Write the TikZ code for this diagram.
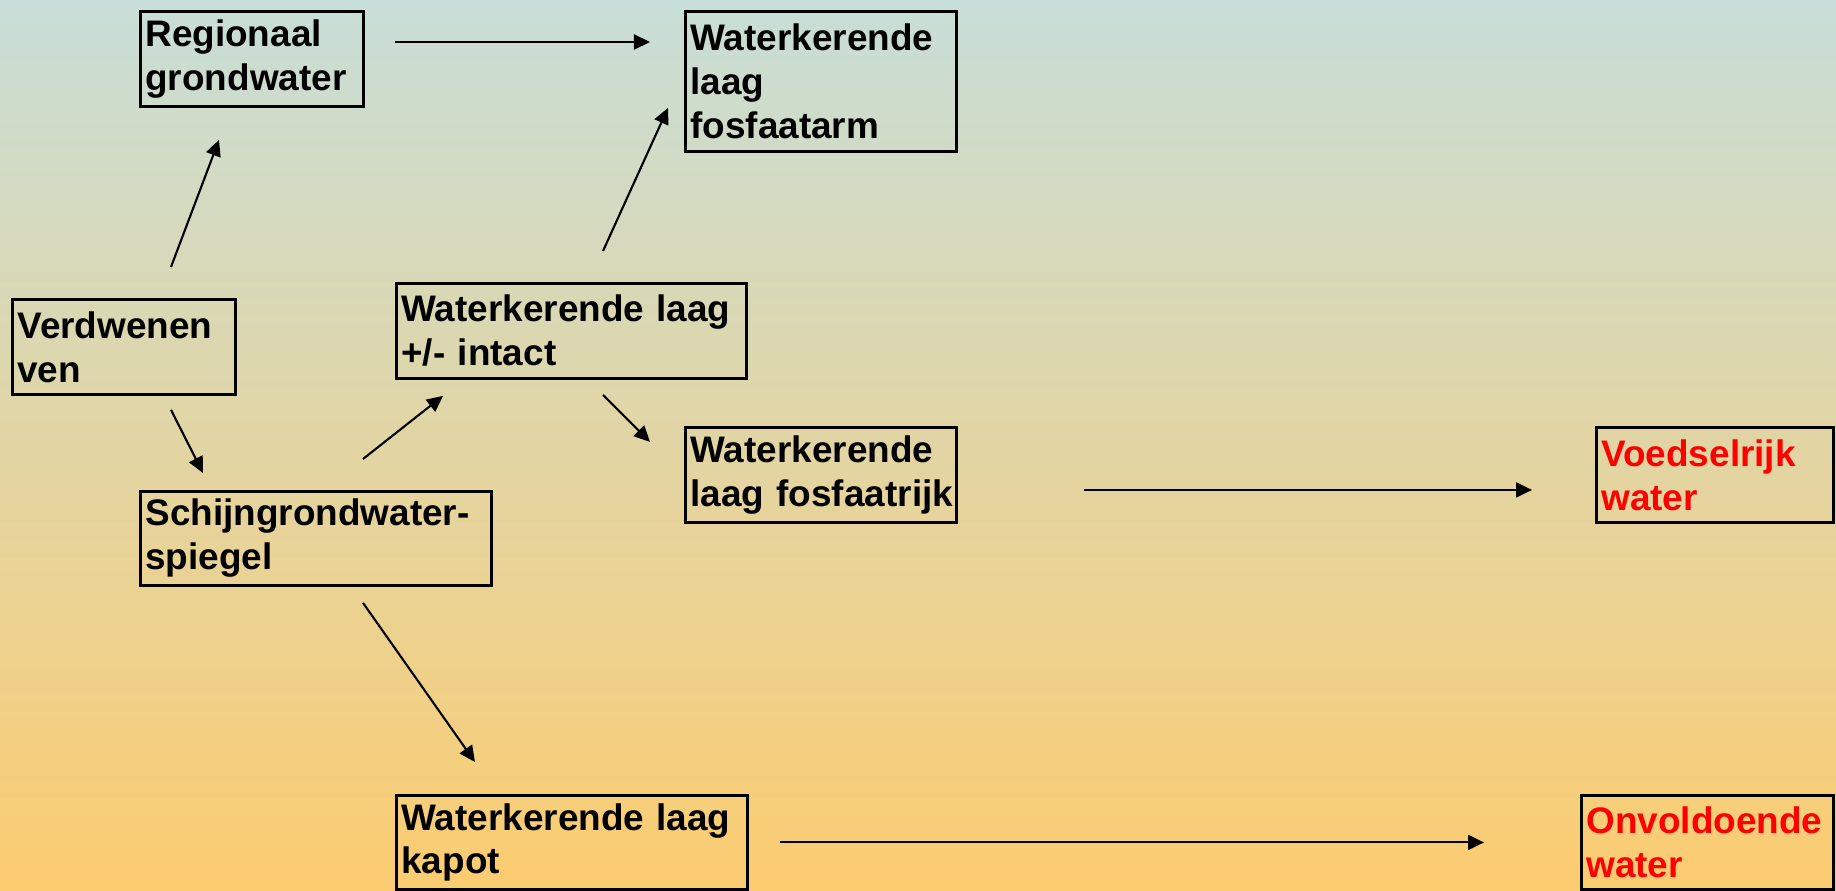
\documentclass[tikz,border=0pt]{standalone}
\usepackage{fontspec}
\setmainfont{Liberation Sans}
\usetikzlibrary{arrows.meta}
\definecolor{bgtop}{RGB}{200,222,216}
\definecolor{bgbottom}{RGB}{252,204,112}
\definecolor{alarmred}{RGB}{255,0,0}

\tikzset{
  blok/.style={draw, line width=0.8pt, anchor=north west, align=left,
               inner xsep=0.05cm, inner ysep=0pt,
               font=\fontsize{10.5}{12.5}\selectfont\bfseries},
  gevolg/.style={blok, text=alarmred},
  pijl/.style={-{Triangle[length=0.16cm,width=0.15cm]}, line width=0.6pt}
}

\begin{document}
\begin{tikzpicture}[x=0.01cm, y=-0.01cm]
  \useasboundingbox (0,0) rectangle (1836,891);
  \shade[top color=bgtop, bottom color=bgbottom] (0,0) rectangle (1836,891);

  % oorzaak en tussenstappen
  \node[blok, text width=2.13cm, minimum height=0.95cm] (reg) at (139,10)
    {Regionaal\\grondwater};
  \node[blok, text width=2.61cm, minimum height=1.40cm] (arm) at (684,10)
    {Waterkerende\\laag\\fosfaatarm};
  \node[blok, text width=2.13cm, minimum height=0.95cm] (ven) at (11,298)
    {Verdwenen\\ven};
  \node[blok, text width=3.40cm, minimum height=0.95cm] (intact) at (395,282)
    {Waterkerende laag\\+/- intact};
  \node[blok, text width=3.41cm, minimum height=0.94cm] (schijn) at (139,490)
    {Schijngrondwater-\\spiegel};
  \node[blok, text width=2.61cm, minimum height=0.95cm] (rijk) at (684,426)
    {Waterkerende\\\mbox{laag fosfaatrijk}};
  \node[blok, text width=3.41cm, minimum height=0.94cm] (kapot) at (395,794)
    {Waterkerende laag\\kapot};

  % gevolgen
  \node[gevolg, text width=2.27cm, minimum height=0.95cm] (voed) at (1595,426)
    {Voedselrijk\\water};
  \node[gevolg, text width=2.42cm, minimum height=0.94cm] (onv) at (1580,794)
    {Onvoldoende\\water};

  \draw[pijl] ([shift={(30,32)}]reg.north east) -- ([shift={(-34,32)}]arm.north west);
  \draw[pijl] ([shift={(160,-31)}]ven.north west) -- ([shift={(80,32)}]reg.south west);
  \draw[pijl] ([shift={(208,-31)}]intact.north west) -- ([shift={(-16,-45)}]arm.south west);
  \draw[pijl] ([shift={(160,14)}]ven.south west) -- ([shift={(64,-17)}]schijn.north west);
  \draw[pijl] ([shift={(224,-31)}]schijn.north west) -- ([shift={(48,16)}]intact.south west);
  \draw[pijl] ([shift={(208,15)}]intact.south west) -- ([shift={(-34,-33)}]rijk.west);
  \draw[pijl] ([shift={(126,15)}]rijk.east) -- ([shift={(-63,15)}]voed.west);
  \draw[pijl] ([shift={(224,16)}]schijn.south west) -- ([shift={(80,-32)}]kapot.north west);
  \draw[pijl] ([shift={(31,0)}]kapot.east) -- ([shift={(-96,0)}]onv.west);
\end{tikzpicture}
\end{document}
